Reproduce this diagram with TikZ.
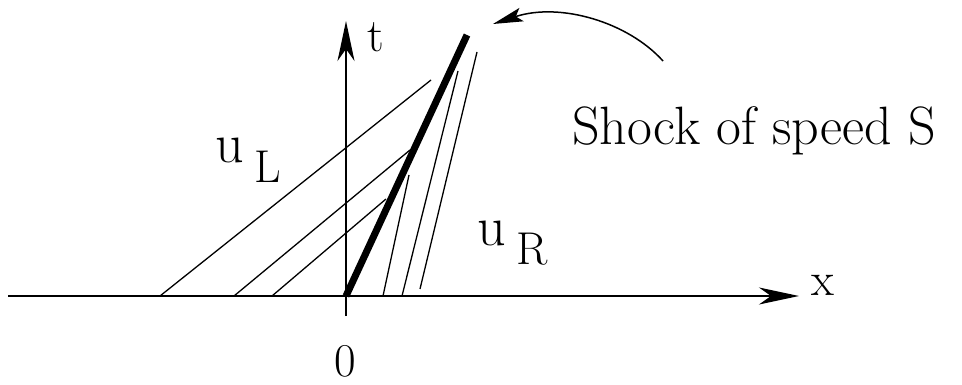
\documentclass[tikz,border=0pt]{standalone}
\usetikzlibrary{arrows.meta}
\begin{document}
\begin{tikzpicture}[x=1pt,y=-1pt,
  axis/.style={line width=1.8pt,-{Stealth[length=40pt,width=17pt,inset=12pt]}},
  charline/.style={line width=1.3pt},
  shockline/.style={line width=7pt},
  lbl/.style={inner sep=0pt,anchor=base west,font=\fontsize{47}{50}\selectfont},
  big/.style={inner sep=0pt,anchor=base west,font=\fontsize{56}{60}\selectfont},
  sub/.style={inner sep=0pt,anchor=base west,font=\fontsize{46}{50}\selectfont}]
\useasboundingbox (0,0) rectangle (962,385);
% axes
\coordinate (xs) at (8,296);
\coordinate (xe) at (799,296);
\coordinate (tb) at (346,316);
\coordinate (te) at (346,21);
\coordinate (O) at (346,296);
\draw[axis] (xs) -- (xe);
\draw[axis] (tb) -- (te);
% left characteristics
\coordinate (l1a) at (160,296); \coordinate (l1b) at (431,80);
\coordinate (l2a) at (234,296); \coordinate (l2b) at (410,150);
\coordinate (l3a) at (272,296); \coordinate (l3b) at (386,199);
\draw[charline] (l1a) -- (l1b);
\draw[charline] (l2a) -- (l2b);
\draw[charline] (l3a) -- (l3b);
% right characteristics
\coordinate (r1a) at (383,296); \coordinate (r1b) at (409,175);
\coordinate (r2a) at (402,296); \coordinate (r2b) at (458,71);
\coordinate (r3a) at (420,289); \coordinate (r3b) at (477,52);
\draw[charline] (r1a) -- (r1b);
\draw[charline] (r2a) -- (r2b);
\draw[charline] (r3a) -- (r3b);
% shock
\coordinate (S) at (467,35);
\draw[shockline] (O) -- (S);
% curved arrow
\coordinate (cs) at (663,61);
\coordinate (ce) at (493,24);
\draw[line width=1.5pt,-{Stealth[length=30pt,width=14pt,inset=6pt]}] (cs) .. controls (628,22) and (560,2) .. (ce);
% labels
\node[lbl] (tl) at (367,52) {t};
\node[lbl] (xl) at (811,295) {x};
\node[lbl] (zl) at (334,376) {0};
\node[big] (uL) at (215,163) {u};
\node[sub] (L) at (254,183) {L};
\node[big] (uR) at (477,245) {u};
\node[sub] (R) at (516,265) {R};
\node[inner sep=0pt,anchor=base west,font=\fontsize{54}{58}\selectfont] (sh) at (572,145) {Shock of speed S};
\end{tikzpicture}
\end{document}
